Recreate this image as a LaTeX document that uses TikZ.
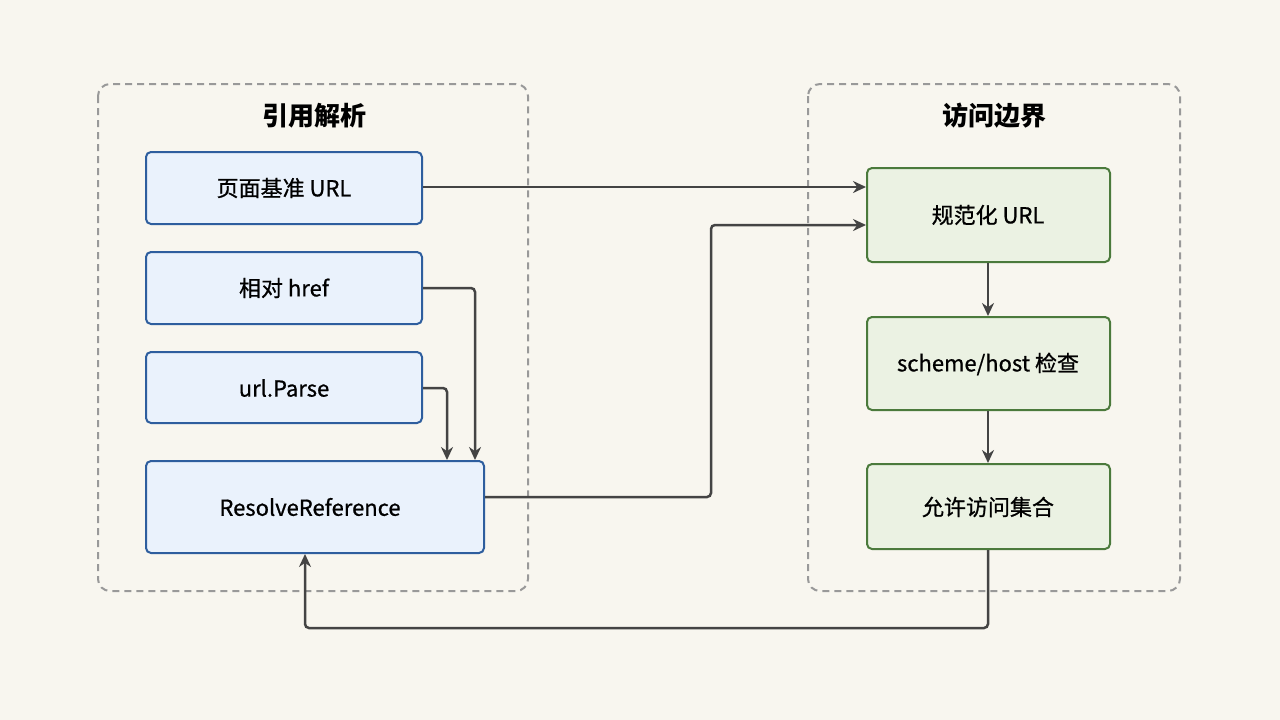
\documentclass[tikz,border=0pt]{standalone}
\usepackage{fontspec}
\setmainfont{Noto Sans CJK SC}
\usetikzlibrary{arrows.meta}
\definecolor{bg}{HTML}{F8F6EF}
\definecolor{bfill}{HTML}{EAF2FC}
\definecolor{bdraw}{HTML}{2E5E9E}
\definecolor{gfill}{HTML}{EBF2E3}
\definecolor{gdraw}{HTML}{4B7A3C}
\definecolor{ln}{HTML}{444444}
\tikzset{
 grp/.style={draw=gray!80,dash pattern=on 7pt off 5pt,line width=2pt,rounded corners=12pt},
 bb/.style={draw=bdraw,fill=bfill,line width=2pt,rounded corners=5pt},
 gb/.style={draw=gdraw,fill=gfill,line width=2pt,rounded corners=5pt},
 tx/.style={font=\fontsize{22}{26}\selectfont\addfontfeatures{FakeBold=0.8}},
 ttl/.style={font=\fontsize{26}{30}\selectfont\bfseries},
 ar/.style={draw=ln,line width=2.5pt,-{Stealth[length=13pt,width=12pt]},rounded corners=4pt}
}
\begin{document}
\begin{tikzpicture}[x=1pt,y=-1pt]
\fill[bg] (0,0) rectangle (1280,720);
\useasboundingbox (0,0) rectangle (1280,720);
\draw[grp] (98,84) rectangle (528,591);
\draw[grp] (808,84) rectangle (1180,591);
\node[ttl] (t1) at (314,116) {引用解析};
\node[ttl] (t2) at (994,116) {访问边界};
\path[bb] (146,152) rectangle (422,224); \node[tx] (n1) at (284,188) {页面基准 URL};
\path[bb] (146,252) rectangle (422,324); \node[tx] (n2) at (284,288) {相对 href};
\path[bb] (146,352) rectangle (422,423); \node[tx] (n3) at (284,388) {url.Parse};
\path[bb] (146,461) rectangle (484,553); \node[tx] (n4) at (310,507) {ResolveReference};
\path[gb] (867,168) rectangle (1110,262); \node[tx] (r1) at (988,215) {规范化 URL};
\path[gb] (867,317) rectangle (1110,410); \node[tx] (r2) at (988,364) {scheme/host 检查};
\path[gb] (867,464) rectangle (1110,549); \node[tx] (r3) at (988,507) {允许访问集合};
\coordinate (a1) at (423,187); \coordinate (b1) at (866,187);
\draw[ar] (a1) -- (b1);
\coordinate (a2) at (423,288); \coordinate (b2) at (475,460);
\draw[ar] (a2) -| (b2);
\coordinate (a3) at (423,388); \coordinate (b3) at (447,460);
\draw[ar] (a3) -| (b3);
\coordinate (a4) at (485,497); \coordinate (b4) at (866,225);
\draw[ar] (a4) -- (711,497) -- (711,225) -- (b4);
\coordinate (c1) at (988,263); \coordinate (c2) at (988,316);
\draw[ar] (c1) -- (c2);
\coordinate (c3) at (988,411); \coordinate (c4) at (988,463);
\draw[ar] (c3) -- (c4);
\coordinate (c5) at (988,550); \coordinate (c6) at (305,554);
\draw[ar] (c5) -- (988,628) -- (305,628) -- (c6);
\end{tikzpicture}
\end{document}
